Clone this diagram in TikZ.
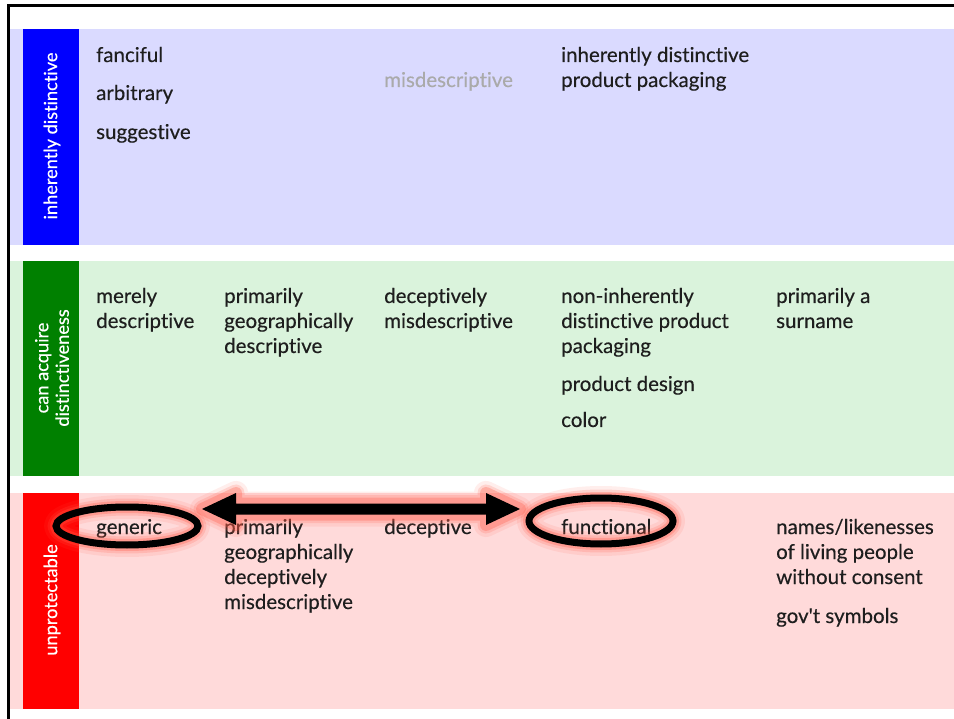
\documentclass[tikz,border=0pt]{standalone}
\usepackage{fontspec}
\setmainfont{Lato}[Ligatures={NoCommon}, FakeBold=0.35]
\newfontfamily\plainlato{Lato}[FakeBold=0.35]
\definecolor{bandB}{RGB}{218,218,255}
\definecolor{bandG}{RGB}{218,243,220}
\definecolor{bandR}{RGB}{255,218,218}
\definecolor{stripB}{RGB}{0,0,255}
\definecolor{stripG}{RGB}{0,128,0}
\definecolor{stripR}{RGB}{255,0,0}
\definecolor{txt}{RGB}{30,30,30}
\definecolor{greytxt}{RGB}{170,170,170}
\definecolor{glowc}{RGB}{255,90,70}
\newcommand\ml[1]{\begin{tabular}[t]{@{}l@{}}#1\end{tabular}}
\begin{document}
\begin{tikzpicture}[x=1pt,y=-1pt,
  item/.style={anchor=base west, inner sep=0pt, font=\fontsize{20.5}{25}\selectfont, text=txt},
  striplabel/.style={rotate=90, text=white, align=center, inner sep=0pt, font=\fontsize{18.2}{20.5}\selectfont},
  glowA/.style={draw=glowc, opacity=0.1, line width=24pt, line join=round},
  glowB/.style={draw=glowc, opacity=0.18, line width=17pt, line join=round},
  glowC/.style={draw=glowc, opacity=0.3, line width=12pt, line join=round},
  ring/.style={draw=black, line width=7pt}]
\useasboundingbox (0,0) rectangle (954,719);
\fill[white] (0,0) rectangle (954,719);
% bands
\fill[bandB] (10,29) rectangle (954,245);
\fill[stripB] (23,29) rectangle (79,245);
\fill[bandG] (10,261) rectangle (954,476);
\fill[stripG] (23,261) rectangle (79,476);
\fill[bandR] (10,493) rectangle (954,709);
\fill[stripR] (23,493) rectangle (79,709);
% frame
\draw[line width=2.5pt, line cap=rect] (8.5,719) -- (8.5,5.5) -- (954,5.5);
% strip labels
\node[striplabel] (lb) at (52,136) {inherently distinctive};
\node[striplabel] (lg) at (52,368) {can acquire\\distinctiveness};
\node[striplabel] (lr) at (52,600) {unprotectable};
% blue row
\node[item] (fanciful) at (96,62) {fanciful};
\node[item] (arbitrary) at (96,100) {arbitrary};
\node[item] (suggestive) at (96,139) {suggestive};
\node[item, text=greytxt] (misdesc) at (384,87) {misdescriptive};
\node[item] (idpp) at (561,62) {\ml{inherently distinctive\\product packaging}};
% green row
\node[item] (merely) at (96,303) {\ml{merely\\descriptive}};
\node[item] (pgd) at (224,303) {\ml{primarily\\geographically\\descriptive}};
\node[item] (dm) at (384,303) {\ml{deceptively\\misdescriptive}};
\node[item] (nidpp) at (561,303) {\ml{non-inherently\\distinctive product\\packaging}};
\node[item] (pdesign) at (561,391) {product design};
\node[item] (color) at (561,427) {color};
\node[item] (surname) at (776,303) {\ml{primarily a\\surname}};
% red row
\node[item] (generic) at (96,534) {generic};
\node[item] (pgdm) at (224,534) {\ml{primarily\\geographically\\deceptively\\misdescriptive}};
\node[item] (deceptive) at (384,534) {deceptive};
\node[item] (functional) at (561,534) {functional};
\node[item] (names) at (776,534) {\ml{names/likenesses\\of living people\\without consent}};
\node[item] (gov) at (776,623) {{\plainlato gov't symbols}};
% highlight shapes
\coordinate (gc) at (127,526);
\coordinate (fc) at (601,521);
\def\arrowpath{(202,509) -- (236,493) -- (236,503.5) -- (486,503.5) -- (486,493) -- (520,509) -- (486,525) -- (486,514.5) -- (236,514.5) -- (236,525) -- cycle}
\foreach \g in {glowA,glowB,glowC}{
  \draw[\g] (gc) ellipse [x radius=71, y radius=19];
  \draw[\g] (fc) ellipse [x radius=72, y radius=23];
  \draw[\g] \arrowpath;
}
\draw[ring] (gc) ellipse [x radius=71, y radius=19];
\draw[ring] (fc) ellipse [x radius=72, y radius=23];
\fill[black] \arrowpath;
\end{tikzpicture}
\end{document}
